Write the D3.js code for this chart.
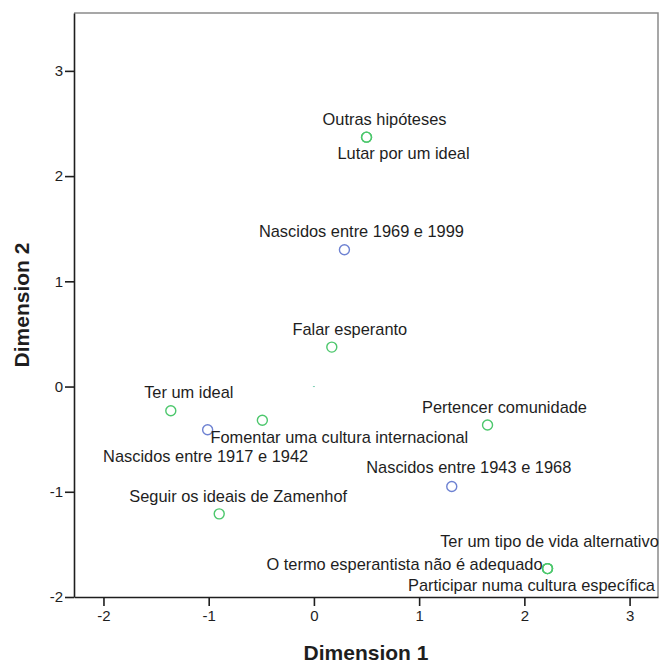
<!DOCTYPE html>
<meta charset="utf-8">
<style>
body {
  margin: 0;
  background: #fff;
}
text {
  font-family: "Liberation Sans", Arial, sans-serif;
  fill: #1e1e1e;
}
.tick text {
  font-size: 15px;
}
.tick line, .domain {
  stroke: #1e1e1e;
  stroke-width: 1.6px;
}
.lbl {
  font-size: 16.4px;
}
.title {
  font-size: 21px;
  font-weight: bold;
}
</style>
<body>
<svg width="659" height="663"></svg>
<script src="https://d3js.org/d3.v7.min.js"></script>
<script>
// category points (joint plot of category points)
var labels = [
  "Outras hipóteses", "Lutar por um ideal", "Nascidos entre 1969 e 1999",
  "Falar esperanto", "Ter um ideal", "Nascidos entre 1917 e 1942",
  "Fomentar uma cultura internacional", "Seguir os ideais de Zamenhof",
  "Pertencer comunidade", "Nascidos entre 1943 e 1968",
  "Ter um tipo de vida alternativo", "O termo esperantista não é adequado",
  "Participar numa cultura específica"
];
var dim1 = [0.50, 0.50, 0.29, 0.17, -1.36, -1.01, -0.49, -0.90, 1.65, 1.31, 2.22, 2.22, 2.22];
var dim2 = [2.37, 2.37, 1.30, 0.375, -0.23, -0.41, -0.32, -1.21, -0.365, -0.95, -1.73, -1.73, -1.73];
var variable = ["motivo", "motivo", "idade", "motivo", "motivo", "idade",
  "motivo", "motivo", "motivo", "idade", "motivo", "motivo", "motivo"];

var xTicks = [-2, -1, 0, 1, 2, 3];
var yTicks = [-2, -1, 0, 1, 2, 3];

// label placement, pixels from the point (SPSS places these itself)
var labelDx = [18, 37, 17, 18, 18, -2, 77, 19, 17, 17, 2, -143, -16];
var labelDy = [-18, 16, -18, -18, -18, 27, 17, -18, -18, -19, -27, -4, 17];

var colors = {motivo: "#4cc76c", idade: "#6e82d2"};

var svg = d3.select("svg"),
    margin = {top: 13, right: 1, bottom: 66, left: 74},
    width = +svg.attr("width") - margin.left - margin.right,
    height = +svg.attr("height") - margin.top - margin.bottom;

var x = d3.scaleLinear().domain([-2.28, 3.27]).range([0, width]);
var y = d3.scaleLinear().domain([-2, 3.55]).range([height, 0]);

var fmt = function(d) { return String(d); };

var g = svg.append("g")
    .attr("transform", "translate(" + margin.left + "," + margin.top + ")");

// frame top / right
g.append("path")
    .attr("d", "M0,0H" + width + "V" + height)
    .attr("fill", "none")
    .attr("stroke", "#8a8a8a")
    .attr("stroke-width", 1.5);

g.append("g")
    .attr("transform", "translate(0," + height + ")")
    .call(d3.axisBottom(x).tickValues(xTicks).tickFormat(fmt).tickSize(9).tickPadding(4).tickSizeOuter(0));

g.append("g")
    .call(d3.axisLeft(y).tickValues(yTicks).tickFormat(fmt).tickSize(9).tickPadding(2).tickSizeOuter(0));

var pts = d3.range(labels.length);

// centroid marker
g.append("rect")
    .attr("x", x(0) - 1)
    .attr("y", y(0) - 0.5)
    .attr("width", 2)
    .attr("height", 1)
    .attr("fill", "#7ecfb5");

g.selectAll(".pt")
  .data(pts)
  .enter().append("circle")
    .attr("class", "pt")
    .attr("cx", function(i) { return x(dim1[i]); })
    .attr("cy", function(i) { return y(dim2[i]); })
    .attr("r", 5)
    .attr("fill", "none")
    .attr("stroke", function(i) { return colors[variable[i]]; })
    .attr("stroke-width", 1.4);

g.selectAll(".lbl")
  .data(pts)
  .enter().append("text")
    .attr("class", "lbl")
    .attr("x", function(i) { return x(dim1[i]) + labelDx[i]; })
    .attr("y", function(i) { return y(dim2[i]) + labelDy[i]; })
    .attr("dy", "0.35em")
    .attr("text-anchor", "middle")
    .text(function(i) { return labels[i]; });

svg.append("text")
    .attr("class", "title")
    .attr("x", margin.left + width / 2)
    .attr("y", 660)
    .attr("text-anchor", "middle")
    .text("Dimension 1");

svg.append("text")
    .attr("class", "title")
    .attr("transform", "translate(29," + (margin.top + height / 2) + ") rotate(-90)")
    .attr("text-anchor", "middle")
    .text("Dimension 2");
</script>
</body>
